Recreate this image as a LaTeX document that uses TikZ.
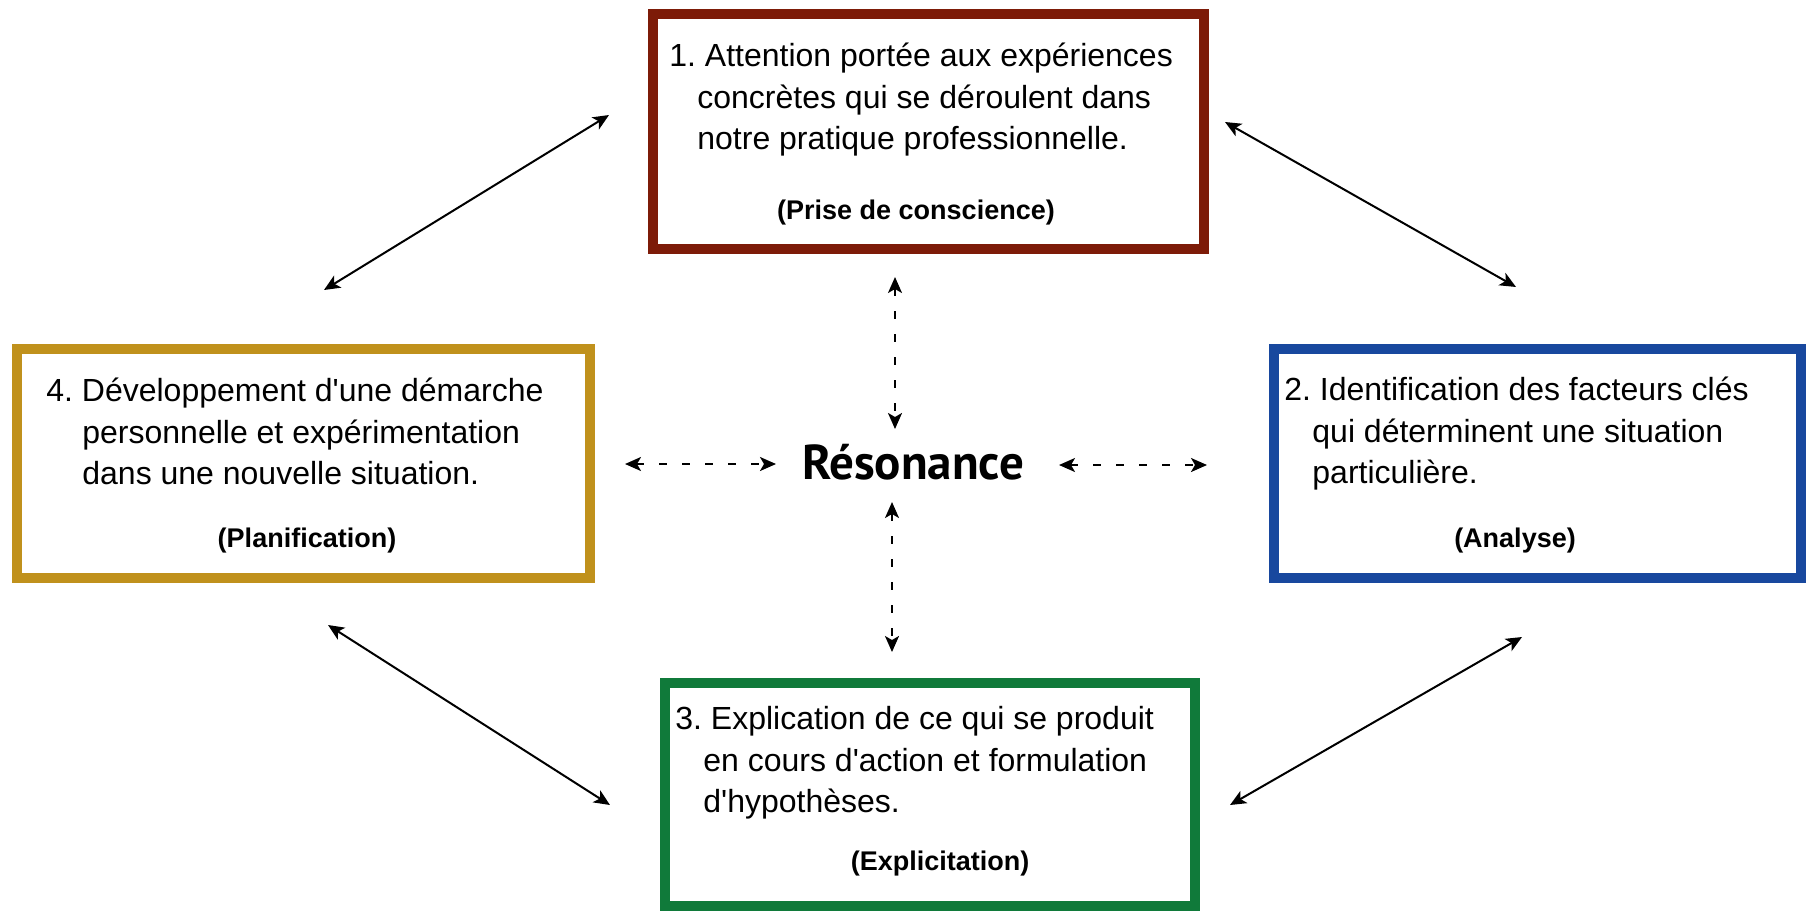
\documentclass[tikz,border=0pt]{standalone}
\usepackage{fontspec}
\setmainfont{Liberation Sans}
\newfontfamily\resfont{PT Sans}
\usetikzlibrary{arrows.meta}

\definecolor{prisecol}{HTML}{7D1B08}
\definecolor{analysecol}{HTML}{18489E}
\definecolor{explicol}{HTML}{107A3A}
\definecolor{planifcol}{HTML}{C0911C}

\begin{document}
\frenchspacing
\begin{tikzpicture}[
    x = 0.5pt, y = -0.5pt,
    box/.style = {draw = #1, line width = 5pt, fill = white, inner sep = 0pt},
    txt/.style = {anchor = north west, align = left, inner sep = 0pt,
                  font = \fontsize{16}{20.75}\selectfont},
    sub/.style = {inner sep = 0pt, font = \bfseries\fontsize{13.5}{16}\selectfont},
    link/.style = {line width = 1pt,
                   {Stealth[length = 8pt, width = 7pt, inset = 2pt]}-{Stealth[length = 8pt, width = 7pt, inset = 2pt]}},
    echo/.style = {link, dash pattern = on 4pt off 7.5pt}
]
\useasboundingbox (0,0) rectangle (1809,911);

% Boxes
\node[box = prisecol,   minimum width = 275.5pt, minimum height = 117.5pt] (prise)   at (928.5,131.5) {};
\node[box = planifcol,  minimum width = 286.5pt, minimum height = 114.5pt] (planif)  at (303.5,463.5) {};
\node[box = analysecol, minimum width = 263.5pt, minimum height = 114.5pt] (analyse) at (1537.5,463.5) {};
\node[box = explicol,   minimum width = 265pt,   minimum height = 111.5pt] (expli)   at (930,794.5) {};

% Box texts
\node[txt] (prisetxt) at (669,43)
    {1. Attention portée aux expériences\\\hspace*{14pt}concrètes qui se déroulent dans\\\hspace*{14pt}notre pratique professionnelle.};
\node[sub] (prisesub) at (916,213) {(Prise de conscience)};

\node[txt] (analysetxt) at (1284,377)
    {2. Identification des facteurs clés\\\hspace*{14pt}qui déterminent une situation\\\hspace*{14pt}particulière.};
\node[sub] (analysesub) at (1515,541) {(Analyse)};

\node[txt] (explitxt) at (675,706)
    {3. Explication de ce qui se produit\\\hspace*{14pt}en cours d\textquotesingle action et formulation\\\hspace*{14pt}d\textquotesingle hypothèses.};
\node[sub] (explisub) at (940,864) {(Explicitation)};

\node[txt] (planiftxt) at (46,378)
    {4. Développement d\textquotesingle une démarche\\\hspace*{18pt}personnelle et expérimentation\\\hspace*{18pt}dans une nouvelle situation.};
\node[sub] (planifsub) at (307,541) {(Planification)};

% Centre
\node[inner sep = 0pt, anchor = base, font = \resfont\bfseries\fontsize{24.5}{28}\selectfont]
    (reso) at (913,479) {Résonance};

% Arrow ends
\coordinate (pg1) at (609,115);   \coordinate (pg2) at (324,290);
\coordinate (pa1) at (1225,122);  \coordinate (pa2) at (1516,287);
\coordinate (ge1) at (328,625);   \coordinate (ge2) at (610,805);
\coordinate (ae1) at (1522,637);  \coordinate (ae2) at (1230,805);

\coordinate (up1) at (895,277);   \coordinate (up2) at (895,429);
\coordinate (dn1) at (892,502);   \coordinate (dn2) at (892,652);
\coordinate (lf1) at (625,464);   \coordinate (lf2) at (776,464);
\coordinate (rt1) at (1059,465);  \coordinate (rt2) at (1207,465);

% Cycle arrows
\draw[link] (pg1) -- (pg2);
\draw[link] (pa1) -- (pa2);
\draw[link] (ge1) -- (ge2);
\draw[link] (ae1) -- (ae2);

% Resonance arrows
\draw[echo] (up1) -- (up2);
\draw[echo] (dn1) -- (dn2);
\draw[echo] (lf1) -- (lf2);
\draw[echo] (rt1) -- (rt2);

\end{tikzpicture}
\end{document}
